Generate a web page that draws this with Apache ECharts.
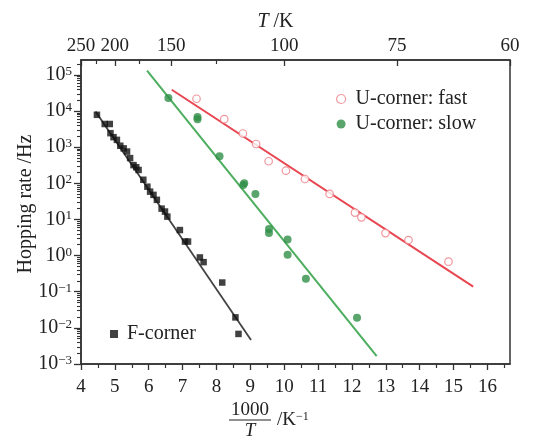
<!DOCTYPE html>
<html><head><meta charset="utf-8">
<script src="https://cdn.jsdelivr.net/npm/echarts@6/dist/echarts.min.js"></script>
<style>html,body{margin:0;padding:0;background:#fff}#c{width:535px;height:440px}</style>
</head><body><div id="c"></div>
<script>
// ---- data (x = 1000/T in 1/K, y = hopping rate in Hz) ----
const fCornerX = [4.47,4.70,4.85,4.87,4.96,5.06,5.16,5.26,5.36,5.45,5.55,5.63,5.70,5.84,5.96,6.04,6.14,6.24,6.38,6.48,6.55,6.92,7.07,7.16,7.51,7.62,8.17,8.56,8.65];
const fCornerY = [7900,4400,4400,2450,1900,1600,1100,930,760,500,320,280,235,126,81,59,48,35,20,16.6,12,5.1,2.45,2.45,0.89,0.66,0.18,0.0195,0.0068];
const slowX = [6.58,7.44,7.44,8.09,8.79,8.82,9.15,9.55,9.55,10.10,10.10,10.64,12.15];
const slowY = [23000,6900,6000,560,90,100,51,5.5,4.2,2.8,1.05,0.23,0.019];
const fastX = [7.41,8.23,8.78,9.17,9.54,10.05,10.61,11.34,12.09,12.28,12.99,13.67,14.85];
const fastY = [22000,6000,2400,1230,410,224,132,51,15.5,11.5,4.2,2.7,0.68];
// fitted lines (end points)
const fFitX = [4.43, 9.02];
const fFitY = [9800, 0.0046];
const slowFitX = [5.95, 12.73];
const slowFitY = [132000, 0.00166];
const fastFitX = [6.68, 15.58];
const fastFitY = [39000, 0.138];
// tick labels
const xMajorTicks = [4,5,6,7,8,9,10,11,12,13,14,15,16];
const xMinorTicks = [4.5,5.5,6.5,7.5,8.5,9.5,10.5,11.5,12.5,13.5,14.5,15.5,16.5];
const topTLabels = [250,200,150,100,75,60];
const topTMinor = [225,175,125];
const yMajorTicks = [0.001,0.01,0.1,1,10,100,1000,10000,100000];
const yMinorMult = [2,3,4,5,6,7,8,9];

const FONT = '"Liberation Serif","Times New Roman",serif';
const zip = (a,b) => a.map((v,i)=>[v,b[i]]);
const XMIN = 4, XMAX = 1000/60, YMIN = 0.001, YMAX = 260000;
const yMinor = [];
yMajorTicks.forEach(d => yMinorMult.forEach(m => { const v = m*d; if (v < YMAX) yMinor.push(v); }));
const axisCol = '#333';

const chart = echarts.init(document.getElementById('c'), null, {renderer:'canvas'});
const supFmt = v => {
  const e = Math.log10(v); const r = Math.round(e);
  if (Math.abs(e - r) > 1e-6) return '';
  return '{b|10}{s|' + (r < 0 ? '\u2212' + (-r) : r) + '}';
};
chart.setOption({
  animation: false,
  backgroundColor: '#fff',
  grid: {left: 81, right: 25, top: 60, bottom: 76, show: true, borderColor: axisCol, borderWidth: 1.5, backgroundColor: 'transparent'},
  xAxis: [
    {type:'value', position:'bottom', min:XMIN, max:XMAX,
     axisLine:{show:true, onZero:false, lineStyle:{color:axisCol, width:1.5}},
     axisTick:{show:true, inside:false, length:6, customValues:xMajorTicks, lineStyle:{color:axisCol, width:1.3}},
     axisLabel:{customValues:xMajorTicks, margin:14, fontSize:19, fontFamily:FONT, color:'#222'},
     splitLine:{show:false}},
    {type:'value', position:'bottom', min:XMIN, max:XMAX,
     axisLine:{show:false, onZero:false},
     axisTick:{show:true, inside:false, length:4, customValues:xMinorTicks, lineStyle:{color:axisCol, width:1.2}},
     axisLabel:{show:false}, splitLine:{show:false}},
    {type:'value', position:'top', min:XMIN, max:XMAX,
     axisLine:{show:true, onZero:false, lineStyle:{color:axisCol, width:1.5}},
     axisTick:{show:true, inside:true, length:6, customValues:topTLabels.map(t=>1000/t), lineStyle:{color:axisCol, width:1.3}},
     axisLabel:{customValues:topTLabels.map(t=>1000/t), formatter: v => String(Math.round(1000/v)), margin:4, fontSize:19, fontFamily:FONT, color:'#222'},
     name:'{i|T}{n| /K}', nameLocation:'middle', nameGap:28, nameMoveOverlap:false,
     nameTextStyle:{padding:[0,40,0,0], rich:{i:{fontSize:20, fontStyle:'italic', fontFamily:FONT, color:'#222'}, n:{fontSize:20, fontFamily:FONT, color:'#222'}}},
     splitLine:{show:false}},
    {type:'value', position:'top', min:XMIN, max:XMAX,
     axisLine:{show:false, onZero:false},
     axisTick:{show:true, inside:true, length:4, customValues:topTMinor.map(t=>1000/t), lineStyle:{color:axisCol, width:1.2}},
     axisLabel:{show:false}, splitLine:{show:false}}
  ],
  yAxis: [
    {type:'log', logBase:10, min:YMIN, max:YMAX, position:'left',
     axisLine:{show:true, onZero:false, lineStyle:{color:axisCol, width:1.5}},
     axisTick:{show:true, inside:false, length:7, customValues:yMajorTicks, lineStyle:{color:axisCol, width:1.3}},
     axisLabel:{customValues:yMajorTicks, formatter:supFmt, margin:9, color:'#222',
       rich:{b:{fontSize:20, fontFamily:FONT, color:'#222'}, s:{fontSize:13, fontFamily:FONT, color:'#222', verticalAlign:'top'}}},
     name:'Hopping rate /Hz', nameLocation:'middle', nameGap:45, nameMoveOverlap:false,
     nameTextStyle:{fontSize:20, fontFamily:FONT, color:'#222', padding:[0,0,0,16]},
     splitLine:{show:false}},
    {type:'log', logBase:10, min:YMIN, max:YMAX, position:'left',
     axisLine:{show:false, onZero:false},
     axisTick:{show:true, inside:false, length:4, customValues:yMinor, lineStyle:{color:axisCol, width:1.1}},
     axisLabel:{show:false}, splitLine:{show:false}}
  ],
  legend: [
    {data:[{name:'U-corner: fast', itemStyle:{borderWidth:1.2}}, {name:'U-corner: slow'}],
     orient:'vertical', left:331, top:84, itemWidth:9, itemHeight:9, itemGap:5, selectedMode:false,
     textStyle:{fontSize:20, fontFamily:FONT, color:'#222', padding:[0,0,0,5]}},
    {data:['F-corner'], orient:'vertical', left:105, top:319, itemWidth:8, itemHeight:8, selectedMode:false,
     textStyle:{fontSize:20, fontFamily:FONT, color:'#222', padding:[0,0,0,4]}}
  ],
  graphic: [
    {type:'text', x:250, y:410, style:{text:'1000', fontSize:19, fontFamily:FONT, fill:'#222', align:'center', verticalAlign:'middle', textAlign:'center', textVerticalAlign:'middle'}},
    {type:'line', shape:{x1:229, y1:420, x2:271, y2:420}, style:{stroke:'#222', lineWidth:1}},
    {type:'text', x:250, y:431, style:{text:'T', fontSize:19, fontStyle:'italic', fontFamily:FONT, fill:'#222', align:'center', verticalAlign:'middle', textAlign:'center', textVerticalAlign:'middle'}},
    {type:'text', x:277, y:420, style:{text:'{a|/K}{s|\u22121}', align:'left', verticalAlign:'middle', textAlign:'left', textVerticalAlign:'middle',
      rich:{a:{fontSize:19, fontFamily:FONT, fill:'#222', color:'#222'}, s:{fontSize:12, fontFamily:FONT, fill:'#222', color:'#222', verticalAlign:'top'}}}}
  ],
  series: [
    {type:'line', data:zip(fFitX,fFitY), showSymbol:false, silent:true, lineStyle:{color:'#444', width:1.8}, z:2},
    {type:'line', data:zip(slowFitX,slowFitY), showSymbol:false, silent:true, lineStyle:{color:'#4cae5e', width:2}, z:2},
    {type:'line', data:zip(fastFitX,fastFitY), showSymbol:false, silent:true, lineStyle:{color:'#e84650', width:2}, z:2},
    {name:'F-corner', type:'scatter', data:zip(fCornerX,fCornerY), symbol:'rect', symbolSize:6.5, itemStyle:{color:'#111'}, z:3},
    {name:'U-corner: slow', type:'scatter', data:zip(slowX,slowY), symbol:'circle', symbolSize:8, itemStyle:{color:'#2f8f47', borderColor:'#2f8f47', borderWidth:0}, z:3},
    {name:'U-corner: fast', type:'scatter', data:zip(fastX,fastY), symbol:'circle', symbolSize:7.5, itemStyle:{color:'#fff', borderColor:'#ee7c84', borderWidth:1.2}, z:3}
  ]
});
</script></body></html>
